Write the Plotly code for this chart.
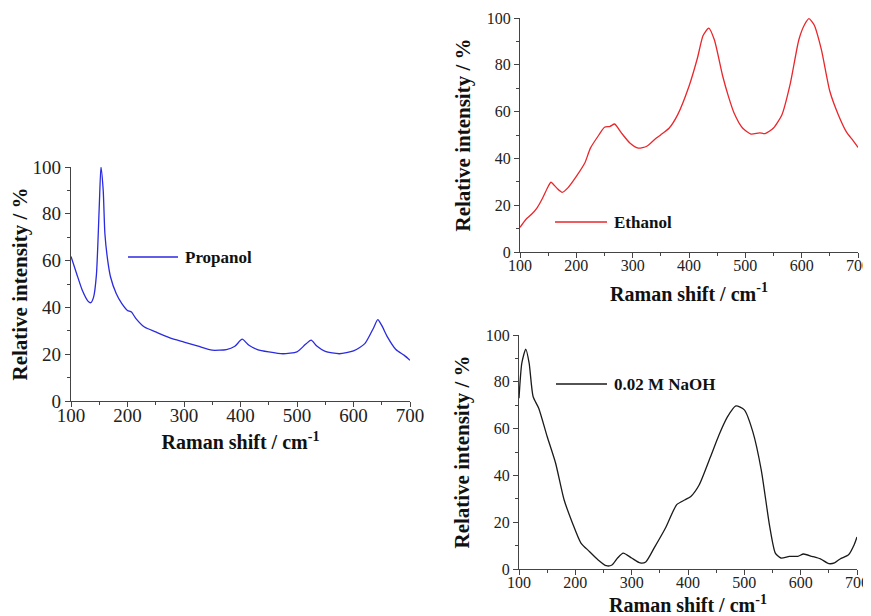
import plotly.graph_objects as go

# ---------------- data ----------------
propanol_x = [100, 110, 120, 130, 135, 140, 145, 150, 153, 157, 160, 165, 170, 180, 190, 200, 207, 215,
              230, 250, 275, 300, 325, 350, 375, 390, 403, 415, 430, 450, 475, 500, 515, 525, 535, 550,
              575, 600, 620, 635, 643, 650, 660, 675, 690, 700]
propanol_y = [61.8, 54.4, 47.3, 42.7, 42.0, 44.4, 54, 83, 100, 90, 71.5, 60, 53, 45.9, 41.6, 38.7, 38, 35.2,
              31.6, 29.5, 27, 25.2, 23.4, 21.7, 22, 23.4, 26.4, 23.8, 22, 21, 20.2, 21, 24.2, 26, 23.5, 21.2,
              20.2, 21.4, 24.5, 31, 34.8, 32.3, 27.4, 22, 19.5, 17.4]

ethanol_x = [100, 110, 120, 130, 140, 150, 155, 165, 175, 185, 200, 215, 225, 240, 250, 260, 268, 280, 295,
             310, 325, 340, 350, 365, 380, 400, 415, 425, 435, 445, 460, 470, 480, 495, 510, 525, 535, 550,
             565, 580, 595, 605, 613, 622, 635, 650, 665, 680, 690, 700]
ethanol_y = [10.5, 13.8, 16, 18.8, 23, 28, 29.8, 27.4, 25.5, 27.4, 32.3, 38, 44.4, 50, 53.3, 53.7, 54.7, 50.9,
             46.6, 44.4, 45.2, 48.3, 50.1, 53, 58.7, 70.8, 82.9, 92.5, 95.7, 90.7, 75, 66.5, 59.4, 53, 50.4,
             50.9, 50.6, 53, 58.7, 72.2, 90.7, 97.1, 99.7, 97.1, 86.5, 68.7, 58.7, 51.1, 48, 44.7]

naoh_x = [100, 105, 112, 118, 125, 135, 150, 165, 180, 195, 210, 225, 240, 255, 265, 275, 285, 300, 315,
          325, 340, 360, 380, 395, 405, 420, 440, 455, 470, 485, 500, 515, 530, 545, 555, 565, 580, 595,
          605, 620, 635, 650, 660, 670, 685, 695, 700]
naoh_y = [73, 88, 94, 88, 73.7, 68.7, 56.6, 45.2, 29.6, 19.6, 11.1, 7.5, 4, 1.4, 1.7, 4.7, 6.8, 4.7, 2.6,
          3, 9, 17.5, 27.5, 29.6, 31, 36, 48, 57.3, 65, 69.7, 68, 58.7, 42.4, 18.2, 6.8, 4.7, 5.4, 5.4,
          6.4, 5.4, 4.3, 2.3, 2.6, 4.3, 6.1, 10.4, 13.7]

series_names = ["Propanol", "Ethanol", "0.02 M NaOH"]
series_colors = ["#2a2ae0", "#e8262b", "#1a1a1a"]
x_ticks = [100, 200, 300, 400, 500, 600, 700]
y_ticks = [0, 20, 40, 60, 80, 100]

x_title = "Raman shift / cm<sup>-1</sup>"
y_title = "Relative intensity / %"

# ---------------- figure ----------------
OFF = 8                      # page body margin of the browser
W, H = 871 - OFF, 616 - OFF  # figure fills the window exactly
SERIF = "Liberation Serif, Times New Roman, serif"

fig = go.Figure()
data = [(propanol_x, propanol_y, "x", "y"),
        (ethanol_x, ethanol_y, "x2", "y2"),
        (naoh_x, naoh_y, "x3", "y3")]
for (xs, ys, xa, ya), name, col in zip(data, series_names, series_colors):
    fig.add_trace(go.Scatter(x=xs, y=ys, xaxis=xa, yaxis=ya, mode="lines", name=name,
                             line=dict(color=col, width=1.3, shape="spline", smoothing=0.6),
                             showlegend=False))

def px2x(p):
    return (p - OFF) / W

def py2y(p):
    return 1 - (p - OFF) / H

# panel pixel boxes in window pixels: (left, right, top, bottom), tick font size
panels = [(71, 410, 167, 401, 19), (520, 858, 18, 252, 16), (519, 857, 335, 569, 16)]

axis_common = dict(showgrid=False, zeroline=False, showline=True, linecolor="#444", linewidth=1.3,
                   ticks="outside", ticklen=5, tickwidth=1.2, tickcolor="#444",
                   ticklabeloverflow="allow",
                   mirror=False, automargin=False)
minor_common = dict(ticks="outside", ticklen=3, tickwidth=1, tickcolor="#444")

layout = dict(width=W, height=H, margin=dict(l=0, r=0, t=0, b=0),
              paper_bgcolor="white", plot_bgcolor="white", showlegend=False)

for i, (l, r, t, b, fs) in enumerate(panels):
    sfx = "" if i == 0 else str(i + 1)
    tf = dict(family=SERIF, size=fs, color="#222")
    layout["xaxis" + sfx] = dict(axis_common, domain=[px2x(l), px2x(r)], range=[100, 700],
                                 tickvals=x_ticks, minor=dict(minor_common, dtick=50),
                                 tickfont=tf, anchor="y" + sfx,
                                 ticklabelstandoff=-8 if fs == 19 else -6,
                                 title=dict(text=x_title,
                                            font=dict(family=SERIF, size=20, color="#111", weight="bold"),
                                            standoff=10 if fs == 19 else 13))
    layout["yaxis" + sfx] = dict(axis_common, domain=[py2y(b), py2y(t)], range=[0, 100],
                                 tickvals=y_ticks, minor=dict(minor_common, dtick=10),
                                 tickfont=tf, anchor="x" + sfx,
                                 title=dict(text=y_title,
                                            font=dict(family=SERIF, size=21, color="#111", weight="bold"),
                                            standoff=6 if fs == 19 else 10))

fig.update_layout(**layout)

# legend-like keys (line + label), one per panel
keys = [(128, 178, 257), (555, 607, 222), (556, 607, 384)]
for (x0, x1, yy), name, col in zip(keys, series_names, series_colors):
    fig.add_shape(type="line", xref="paper", yref="paper", x0=px2x(x0), x1=px2x(x1),
                  y0=py2y(yy), y1=py2y(yy), line=dict(color=col, width=1.3))
    fig.add_annotation(xref="paper", yref="paper", x=px2x(x1 + 5), y=py2y(yy), xanchor="left",
                       yanchor="middle", text="<b>" + name + "</b>", showarrow=False,
                       font=dict(family=SERIF, size=17, color="#111"))

fig.write_html("out.html")
